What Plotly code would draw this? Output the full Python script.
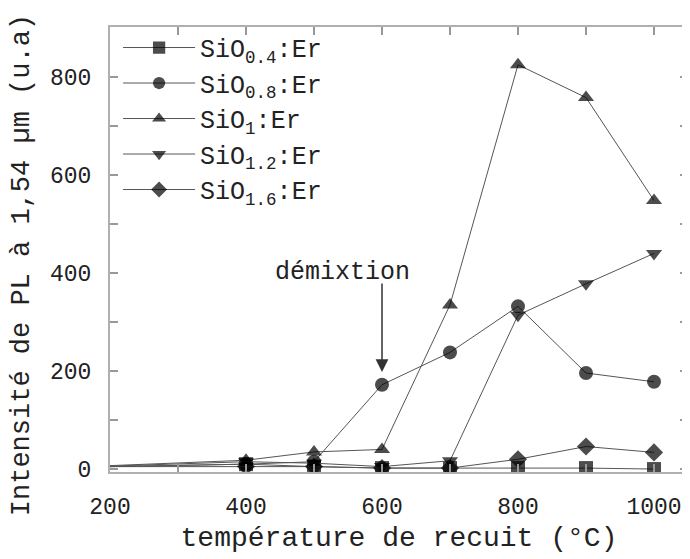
import plotly.graph_objects as go

temps = [200, 400, 500, 600, 700, 800, 900, 1000]
names = ["SiO<sub>0.4</sub>:Er", "SiO<sub>0.8</sub>:Er", "SiO<sub>1</sub>:Er",
         "SiO<sub>1.2</sub>:Er", "SiO<sub>1.6</sub>:Er"]
sio04 = [5, 10, 5, 2, 2, 2, 2, 0]
sio08 = [5, 10, 15, 172, 238, 332, 196, 178]
sio1 = [7, 18, 35, 40, 335, 825, 758, 548]
sio12 = [6, 15, 12, 5, 17, 314, 378, 440]
sio16 = [5, 5, 5, 2, 2, 20, 46, 34]
series = [sio04, sio08, sio1, sio12, sio16]
symbols = ["square", "circle", "triangle-up", "triangle-down", "diamond"]

FONT = "Liberation Mono, Courier New, monospace"
fig = go.Figure()
for name, vals, sym in zip(names, series, symbols):
    sizes = [0] + [14] * (len(temps) - 1)
    fig.add_trace(go.Scatter(
        x=temps, y=vals, name=name, mode="lines+markers",
        line=dict(color="#555555", width=1),
        marker=dict(symbol=sym, size=sizes, color="black", line=dict(width=0)),
    ))

axis_common = dict(
    showline=True, mirror="allticks", linecolor="#b0b0b0", linewidth=2,
    ticks="inside", ticklen=8, tickcolor="#999999", tickwidth=1.5,
    showgrid=False, zeroline=False, automargin=False, ticklabelstandoff=12,
    tickfont=dict(family=FONT, size=23, color="#222222"),
    minor=dict(ticks="inside", ticklen=8, tickcolor="#999999", dtick=100, showgrid=False),
)
fig.update_xaxes(range=[200, 1050], dtick=200, tick0=200,
                 title=dict(text="température de recuit (°C)",
                            font=dict(family=FONT, size=28, color="#222222"), standoff=7),
                 **axis_common)
fig.update_yaxes(range=[-6, 902], dtick=200, tick0=0, **axis_common)

# y-axis title
fig.add_annotation(xref="paper", yref="paper", x=-0.152, y=0.465,
                   text="Intensité de PL à 1,54 µm (u.a)", textangle=-90,
                   showarrow=False, xanchor="center", yanchor="middle",
                   font=dict(family=FONT, size=27, color="#222222"))

fig.add_annotation(x=600, y=198, ax=0, ay=-90, text="", showarrow=True,
                   arrowhead=2, arrowsize=1.7, arrowwidth=1.5, arrowcolor="#333333")
fig.add_annotation(x=542, y=402, text="démixtion", showarrow=False,
                   font=dict(family=FONT, size=25, color="#222222"))

fig.update_layout(
    width=690, height=559,
    margin=dict(l=102, r=10, t=19, b=95),
    plot_bgcolor="white", paper_bgcolor="white",
    legend=dict(x=0.014, y=1.005, xanchor="left", yanchor="top",
                font=dict(family=FONT, size=25, color="#222222"),
                bgcolor="rgba(0,0,0,0)", tracegroupgap=0, itemwidth=72),
    showlegend=True,
)
fig.write_html("out.html")
